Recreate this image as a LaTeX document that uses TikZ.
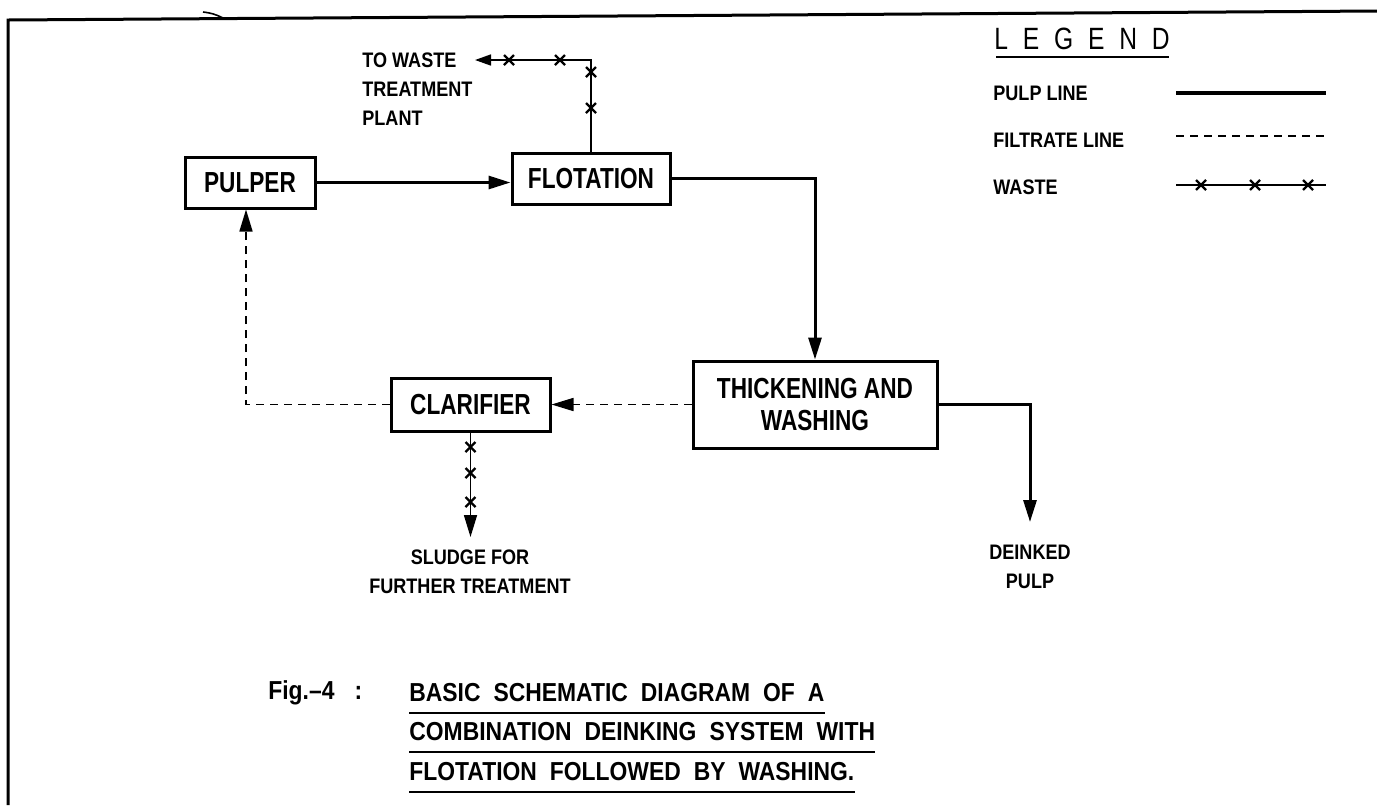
\documentclass[tikz,border=0pt]{standalone}
\usepackage{fontspec}
\setmainfont{Liberation Sans}
\newfontfamily\boxfont[FakeStretch=0.78]{Liberation Sans}
\newfontfamily\legfont[FakeStretch=0.8]{Liberation Sans}
\newfontfamily\lblfont[FakeStretch=0.86]{Liberation Sans}
\newfontfamily\capfont[FakeStretch=0.88]{Liberation Sans}
\usetikzlibrary{arrows.meta}
\newcommand\lsp{\hspace{7.4pt}}
\begin{document}
\begin{tikzpicture}[x=0.5pt,y=-0.5pt,
  procbox/.style={draw, line width=1.5pt, inner sep=0pt, align=center,
    font=\boxfont\bfseries\fontsize{14.5}{16}\selectfont},
  pulp/.style={line width=1.5pt},
  filtrate/.style={line width=0.8pt, dash pattern=on 4pt off 3pt},
  wasteline/.style={line width=0.8pt},
  tip/.style={-{Triangle[length=11pt,width=6.5pt]}},
  wtip/.style={-{Triangle[length=8pt,width=5.5pt]}},
  lbl/.style={inner sep=0pt, font=\lblfont\bfseries\fontsize{10.5}{14.5}\selectfont},
  captxt/.style={inner sep=0pt, anchor=west, font=\capfont\bfseries\fontsize{13}{16}\selectfont},
  xm/.style={line width=1.2pt},
  uline/.style={line width=1pt},
]
\useasboundingbox (0,0) rectangle (1377,805);

% frame
\draw[line width=1.5pt] (8,805) -- (8,20) -- (1377,11);
\draw[line width=0.8pt] (203,12) to[bend left=10] (223,18);

% process boxes
\node[procbox, minimum width=65pt, minimum height=25.5pt] (pulper) at (250,182.5) {PULPER};
\node[procbox, minimum width=79pt, minimum height=25.5pt] (flot) at (591,178.5) {FLOTATION};
\node[procbox, minimum width=122pt, minimum height=43.5pt] (thick) at (815,404.5) {THICKENING AND\\WASHING};
\node[procbox, minimum width=79.5pt, minimum height=26.5pt] (clar) at (470.5,404.5) {CLARIFIER};

% pulp lines
\draw[pulp,tip] (pulper.east) -- (pulper.east -| flot.west);
\draw[pulp,tip] (flot.east) -| (thick.north);
\coordinate (dp) at (1030,522);
\draw[pulp,tip] (thick.east) -| (dp);

% filtrate lines
\draw[filtrate,tip] (thick.west) -- (clar.east);
\coordinate (fc) at (246,404.5);
\draw[filtrate,tip] (clar.west) -- (fc) -- (fc |- pulper.south);

% waste lines
\coordinate (ww) at (475,60);
\draw[wasteline,wtip] (flot.north) |- (ww);
\coordinate (sl) at (470.5,537);
\draw[wasteline,tip] (clar.south) -- (sl);
\foreach \p in {(509,60),(560,60),(591,72),(591,108),(470.5,447),(470.5,473),(470.5,502)}
  \draw[xm] \p ++(-5,-5) -- ++(10,10) ++(0,-10) -- ++(-10,10);

% labels
\node[lbl, anchor=west, align=left] (tw) at (362,89) {TO WASTE\\TREATMENT\\PLANT};
\node[lbl, align=center] (sludge) at (470,572) {SLUDGE FOR\\FURTHER TREATMENT};
\node[lbl, align=center] (dink) at (1030,567) {DEINKED\\PULP};

% legend
\node[inner sep=0pt, anchor=west, font=\legfont\fontsize{15.4}{18}\selectfont] (leg) at (994,39) {L\lsp E\lsp G\lsp E\lsp N\lsp D};
\draw[uline] (996,57) -- (1169,57);
\node[lbl, anchor=west] (lp) at (993,93) {PULP LINE};
\node[lbl, anchor=west] (lf) at (993,140) {FILTRATE LINE};
\node[lbl, anchor=west] (lw) at (993,187) {WASTE};
\draw[line width=2pt] (1176,93) -- (1326,93);
\draw[filtrate] (1176,136) -- (1326,136);
\draw[wasteline] (1176,185) -- (1326,185);
\foreach \p in {(1201,185),(1255,185),(1308,185)}
  \draw[xm] \p ++(-5,-5) -- ++(10,10) ++(0,-10) -- ++(-10,10);

% caption
\node[captxt] (fig) at (268,693) {Fig.\textendash 4\hspace{10pt}:};
\node[captxt] (c1) at (409,693) {\spaceskip=6.5pt plus 1pt\relax BASIC SCHEMATIC DIAGRAM OF A};
\node[captxt] (c2) at (409,732) {\spaceskip=6.5pt plus 1pt\relax COMBINATION DEINKING SYSTEM WITH};
\node[captxt] (c3) at (409,772) {\spaceskip=6.5pt plus 1pt\relax FLOTATION FOLLOWED BY WASHING.};
\coordinate (u1) at (0,713);
\coordinate (u2) at (0,752);
\coordinate (u3) at (0,792);
\draw[uline] (c1.west |- u1) -- (c1.east |- u1);
\draw[uline] (c2.west |- u2) -- (c2.east |- u2);
\draw[uline] (c3.west |- u3) -- (c3.east |- u3);
\end{tikzpicture}
\end{document}
